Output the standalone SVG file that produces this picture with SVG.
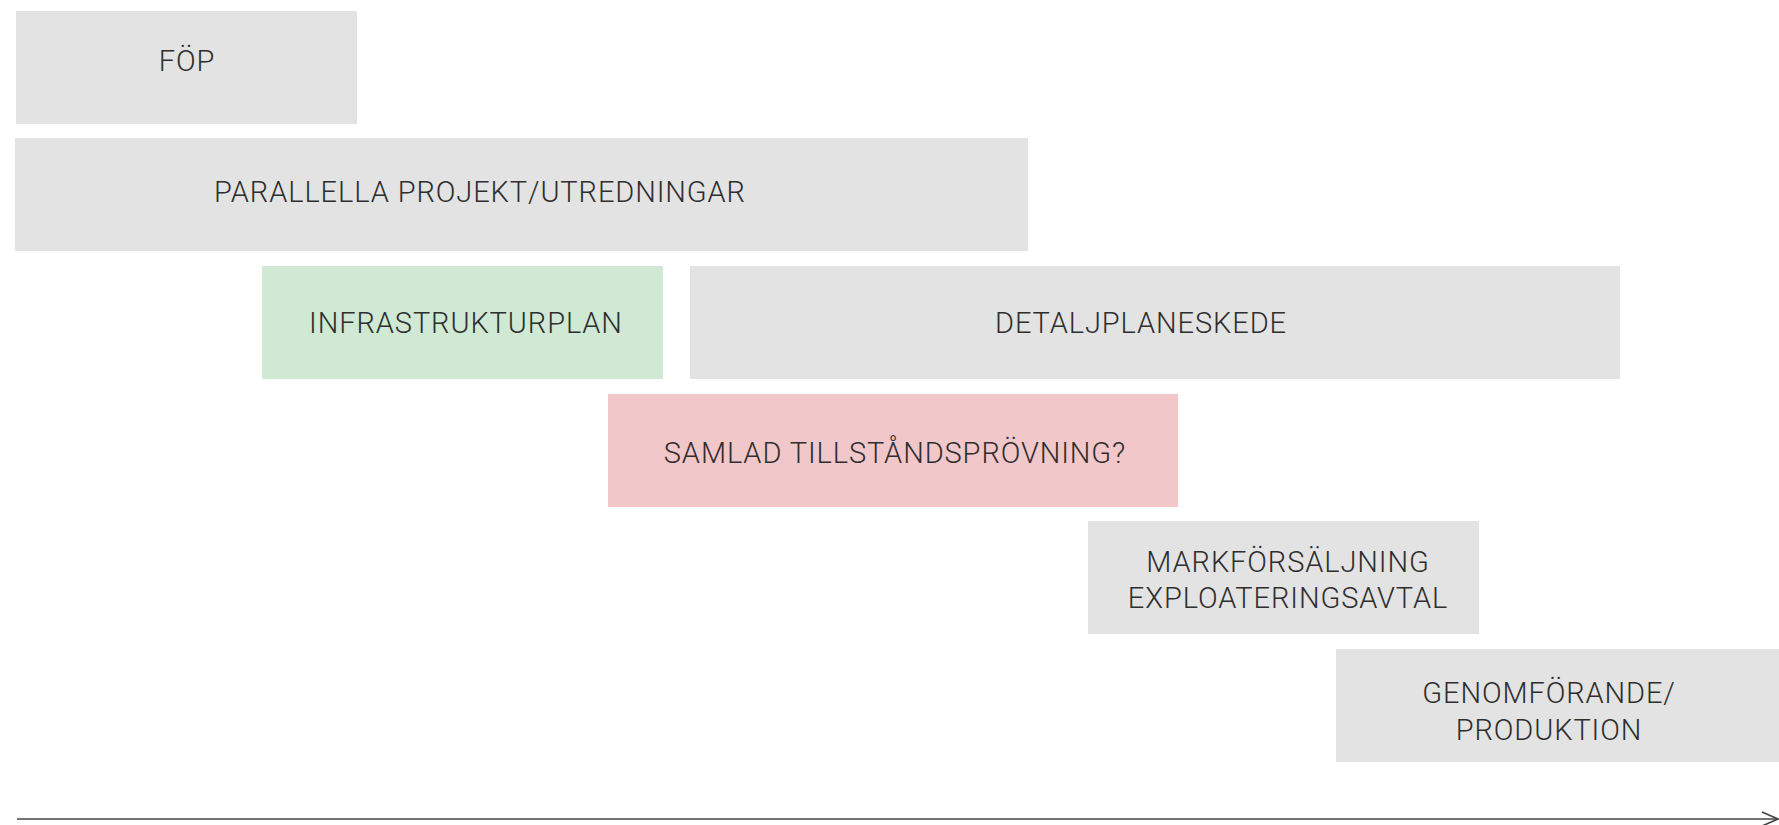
<svg xmlns="http://www.w3.org/2000/svg" width="1779" height="825" viewBox="0 0 1779 825">
<defs>
<style>
.box{fill:#e3e3e3}
.green{fill:#cfe9d4}
.pink{fill:#f2c7c9}
.lbl{font-family:Roboto,"Liberation Sans",sans-serif;font-weight:300;font-size:29px;fill:#2e2e2e;text-anchor:middle;letter-spacing:0.9px}
.axis{stroke:#444;stroke-width:1.6;fill:none}
</style>
</defs>
<rect width="1779" height="825" fill="#ffffff"/>
<g id="fop"><rect class="box" x="16" y="11" width="341" height="113"/><text class="lbl" x="187" y="71">FÖP</text></g>
<g id="parallella"><rect class="box" x="15" y="138" width="1013" height="113"/><text class="lbl" x="480" y="202">PARALLELLA PROJEKT/UTREDNINGAR</text></g>
<g id="infra"><rect class="green" x="262" y="266" width="401" height="113"/><text class="lbl" x="466" y="333">INFRASTRUKTURPLAN</text></g>
<g id="detalj"><rect class="box" x="690" y="266" width="930" height="113"/><text class="lbl" x="1141" y="333">DETALJPLANESKEDE</text></g>
<g id="samlad"><rect class="pink" x="608" y="394" width="570" height="113"/><text class="lbl" x="895" y="463">SAMLAD TILLSTÅNDSPRÖVNING?</text></g>
<g id="mark"><rect class="box" x="1088" y="521" width="391" height="113"/><text class="lbl" x="1288" y="572">MARKFÖRSÄLJNING</text><text class="lbl" x="1288" y="608">EXPLOATERINGSAVTAL</text></g>
<g id="genom"><rect class="box" x="1336" y="649" width="443" height="113"/><text class="lbl" x="1549" y="703">GENOMFÖRANDE/</text><text class="lbl" x="1549" y="740">PRODUKTION</text></g>
<g id="connectors">
<line class="axis" x1="17" y1="819" x2="1777" y2="819"/>
<polyline class="axis" points="1762,812 1778,819 1762,826"/>
</g>
</svg>
